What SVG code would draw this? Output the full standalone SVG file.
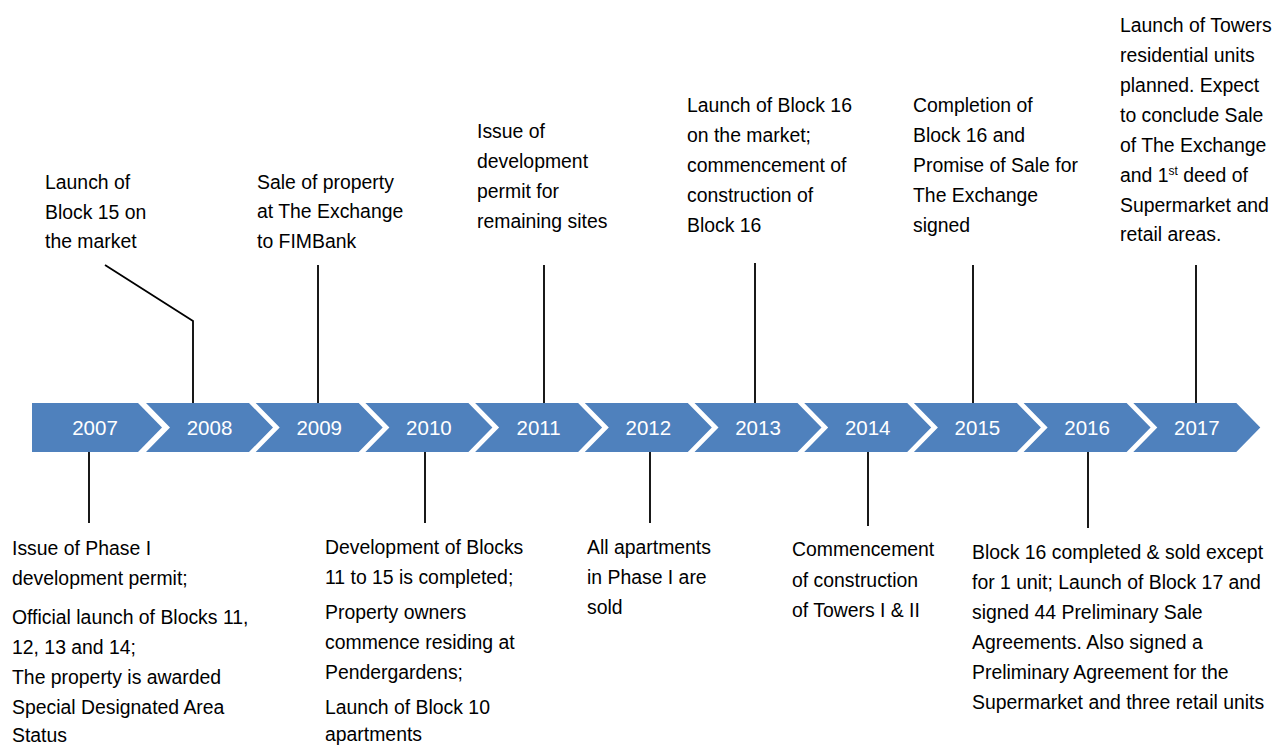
<svg xmlns="http://www.w3.org/2000/svg" width="1274" height="746" viewBox="0 0 1274 746">
<style>
.chev{fill:#4F81BD;}
.yr{font-family:"Liberation Sans",Arial,sans-serif;font-size:20.5px;fill:#FFFFFF;text-anchor:middle;}
.ev{font-family:"Liberation Sans",Arial,sans-serif;font-size:19.4px;fill:#000000;}
.con{stroke:#000000;stroke-width:1.8;fill:none;}
</style>
<rect width="1274" height="746" fill="#FFFFFF"/>
<g id="years">
<g id="y2007"><polygon class="chev" points="32,403 138,403 162,427.5 138,452 32,452"/><text class="yr" x="95" y="434.5">2007</text></g>
<g id="y2008"><polygon class="chev" points="146,403 249,403 273,427.5 249,452 146,452 170,427.5"/><text class="yr" x="209.5" y="434.5">2008</text></g>
<g id="y2009"><polygon class="chev" points="255.7,403 358.7,403 382.7,427.5 358.7,452 255.7,452 279.7,427.5"/><text class="yr" x="319.2" y="434.5">2009</text></g>
<g id="y2010"><polygon class="chev" points="365.4,403 468.4,403 492.4,427.5 468.4,452 365.4,452 389.4,427.5"/><text class="yr" x="428.9" y="434.5">2010</text></g>
<g id="y2011"><polygon class="chev" points="475.1,403 578.1,403 602.1,427.5 578.1,452 475.1,452 499.1,427.5"/><text class="yr" x="538.6" y="434.5">2011</text></g>
<g id="y2012"><polygon class="chev" points="584.8,403 687.8,403 711.8,427.5 687.8,452 584.8,452 608.8,427.5"/><text class="yr" x="648.3" y="434.5">2012</text></g>
<g id="y2013"><polygon class="chev" points="694.5,403 797.5,403 821.5,427.5 797.5,452 694.5,452 718.5,427.5"/><text class="yr" x="758" y="434.5">2013</text></g>
<g id="y2014"><polygon class="chev" points="804.2,403 907.2,403 931.2,427.5 907.2,452 804.2,452 828.2,427.5"/><text class="yr" x="867.7" y="434.5">2014</text></g>
<g id="y2015"><polygon class="chev" points="913.9,403 1016.9,403 1040.9,427.5 1016.9,452 913.9,452 937.9,427.5"/><text class="yr" x="977.4" y="434.5">2015</text></g>
<g id="y2016"><polygon class="chev" points="1023.6,403 1126.6,403 1150.6,427.5 1126.6,452 1023.6,452 1047.6,427.5"/><text class="yr" x="1087.1" y="434.5">2016</text></g>
<g id="y2017"><polygon class="chev" points="1133.3,403 1236.3,403 1260.3,427.5 1236.3,452 1133.3,452 1157.3,427.5"/><text class="yr" x="1196.8" y="434.5">2017</text></g>
</g>
<g id="connectors">
<polyline class="con" points="105,265 193,321 193,403"/>
<line class="con" x1="318" y1="265" x2="318" y2="403"/>
<line class="con" x1="544" y1="265" x2="544" y2="403"/>
<line class="con" x1="755" y1="263" x2="755" y2="403"/>
<line class="con" x1="973" y1="265" x2="973" y2="403"/>
<line class="con" x1="1196" y1="265" x2="1196" y2="403"/>
<line class="con" x1="89" y1="452" x2="89" y2="523"/>
<line class="con" x1="425" y1="452" x2="425" y2="523"/>
<line class="con" x1="650" y1="452" x2="650" y2="523"/>
<line class="con" x1="868" y1="452" x2="868" y2="526"/>
<line class="con" x1="1088" y1="452" x2="1088" y2="528"/>
</g>
<g id="e2007" class="ev">
<text x="12" y="555">Issue of Phase I</text>
<text x="12" y="585">development permit;</text>
<text x="12" y="624">Official launch of Blocks 11,</text>
<text x="12" y="654">12, 13 and 14;</text>
<text x="12" y="684">The property is awarded</text>
<text x="12" y="714">Special Designated Area</text>
<text x="12" y="742">Status</text>
</g>
<g id="e2008" class="ev">
<text x="45" y="189">Launch of</text>
<text x="45" y="219">Block 15 on</text>
<text x="45" y="248">the market</text>
</g>
<g id="e2009" class="ev">
<text x="257" y="189">Sale of property</text>
<text x="257" y="218">at The Exchange</text>
<text x="257" y="248">to FIMBank</text>
</g>
<g id="e2010" class="ev">
<text x="325" y="554">Development of Blocks</text>
<text x="325" y="584">11 to 15 is completed;</text>
<text x="325" y="619">Property owners</text>
<text x="325" y="649">commence residing at</text>
<text x="325" y="679">Pendergardens;</text>
<text x="325" y="714">Launch of Block 10</text>
<text x="325" y="741">apartments</text>
</g>
<g id="e2011" class="ev">
<text x="477" y="138">Issue of</text>
<text x="477" y="168">development</text>
<text x="477" y="198">permit for</text>
<text x="477" y="228">remaining sites</text>
</g>
<g id="e2012" class="ev">
<text x="587" y="554">All apartments</text>
<text x="587" y="584">in Phase I are</text>
<text x="587" y="614">sold</text>
</g>
<g id="e2013" class="ev">
<text x="687" y="112">Launch of Block 16</text>
<text x="687" y="142">on the market;</text>
<text x="687" y="172">commencement of</text>
<text x="687" y="202">construction of</text>
<text x="687" y="232">Block 16</text>
</g>
<g id="e2014" class="ev">
<text x="792" y="556">Commencement</text>
<text x="792" y="587">of construction</text>
<text x="792" y="617">of Towers I &amp; II</text>
</g>
<g id="e2015" class="ev">
<text x="913" y="112">Completion of</text>
<text x="913" y="142">Block 16 and</text>
<text x="913" y="172">Promise of Sale for</text>
<text x="913" y="202">The Exchange</text>
<text x="913" y="232">signed</text>
</g>
<g id="e2016" class="ev">
<text x="972" y="559">Block 16 completed &amp; sold except</text>
<text x="972" y="589">for 1 unit; Launch of Block 17 and</text>
<text x="972" y="619">signed 44 Preliminary Sale</text>
<text x="972" y="649">Agreements. Also signed a</text>
<text x="972" y="679">Preliminary Agreement for the</text>
<text x="972" y="709">Supermarket and three retail units</text>
</g>
<g id="e2017" class="ev">
<text x="1120" y="32">Launch of Towers</text>
<text x="1120" y="62">residential units</text>
<text x="1120" y="92">planned. Expect</text>
<text x="1120" y="122">to conclude Sale</text>
<text x="1120" y="152">of The Exchange</text>
<text x="1120" y="182">and 1<tspan font-size="12" dy="-7">st</tspan><tspan dy="7"> deed of</tspan></text>
<text x="1120" y="212">Supermarket and</text>
<text x="1120" y="241">retail areas.</text>
</g>
</svg>
